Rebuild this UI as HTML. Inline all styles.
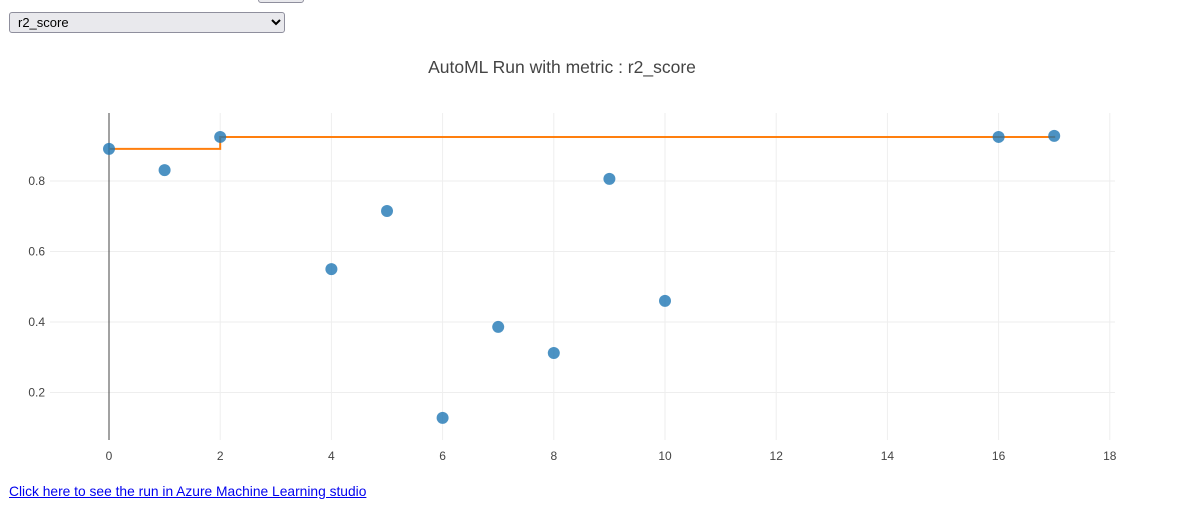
<!DOCTYPE html>
<html><head><meta charset="utf-8"><style>
body{margin:0;width:1185px;height:505px;background:#fff;font-family:"Liberation Sans",sans-serif;position:relative;overflow:hidden}
select{position:absolute;left:9px;top:12px;width:276px;height:21px;font-size:13px;background:#e9e9ed;border:1px solid #8f8f9d;border-radius:3px;padding-left:4px}
#topbtn{position:absolute;left:258px;top:-14px;width:44px;height:15px;border:1px solid #8f8f9d;border-radius:3px;background:#e9e9ed}
a{position:absolute;left:9px;top:484px;font-size:13.8px;color:#00e;text-decoration:underline}
</style></head><body>
<div id="topbtn"></div>
<select><option>r2_score</option></select>
<svg id="c" width="1185" height="505" style="position:absolute;left:0;top:0;pointer-events:none"></svg>
<a href="#">Click here to see the run in Azure Machine Learning studio</a>
<script>
const runs=[0,1,2,4,5,6,7,8,9,10,16,17];
const scores=[0.891,0.831,0.925,0.550,0.715,0.128,0.386,0.312,0.806,0.460,0.925,0.928];
const xTicks=[0,2,4,6,8,10,12,14,16,18];
const yTicks=[0.2,0.4,0.6,0.8];
const NS="http://www.w3.org/2000/svg";
const svg=document.getElementById('c');
const X=v=>109+v*55.6;
const Y=v=>181+(0.8-v)*352.5;
function el(t,a){const e=document.createElementNS(NS,t);for(const k in a)e.setAttribute(k,a[k]);svg.appendChild(e);return e;}
let t=el('text',{x:562,y:73,'text-anchor':'middle','font-size':17.5,fill:'#444'});t.textContent='AutoML Run with metric : r2_score';


yTicks.forEach(v=>{
 let g=el('line',{x1:50,x2:1115,y1:Y(v),y2:Y(v),stroke:'#eee'});
 
 
 let l=el('text',{x:45,y:Y(v)+4,'text-anchor':'end','font-size':12,fill:'#444'});l.textContent=v.toFixed(1);
 
 
});
xTicks.forEach(v=>{
 let g=el('line',{x1:X(v),x2:X(v),y1:113,y2:440,stroke:v===0?'#444':'#eee'});
 
 
 let l=el('text',{x:X(v),y:460,'text-anchor':'middle','font-size':12,fill:'#444'});l.textContent=v;
 
 
});
let best=-Infinity,d='';
runs.forEach((r,i)=>{const prev=best;best=Math.max(best,scores[i]);
 if(i===0)d='M'+X(r)+','+Y(best);else d+=' L'+X(r)+','+Y(prev)+' L'+X(r)+','+Y(best);});
let p=el('path',{d:d,fill:'none',stroke:'#ff7f0e','stroke-width':2});


runs.forEach((r,i)=>{
 let c=el('circle',{cx:X(r),cy:Y(scores[i]),r:6,fill:'#1f77b4','fill-opacity':0.8});
 
 
});
</script>
</body></html>
